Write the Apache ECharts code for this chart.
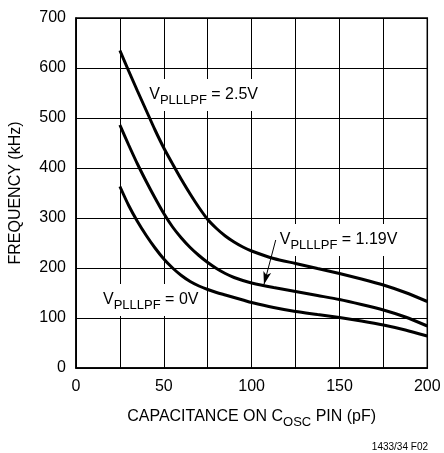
<!DOCTYPE html>
<html>
<head>
<meta charset="utf-8">
<script src="https://cdn.jsdelivr.net/npm/echarts@6/dist/echarts.min.js"></script>
<style>
html,body{margin:0;padding:0;background:#fff;}
#c{width:444px;height:453px;}
</style>
</head>
<body>
<div id="c"></div>
<script>
// Capacitance on COSC pin (pF)
const capPF = [25, 30, 35, 40, 45, 50, 55, 60, 65, 70, 75, 80, 85, 90, 95, 100, 112.5, 125, 137.5, 150, 162.5, 175, 187.5, 200];
// Frequency (kHz) for each VPLLLPF
const freq2p5V = [635, 594, 554, 515, 476, 440, 408, 377, 348, 321, 297, 279, 264, 252, 242, 234, 219, 209, 199, 189, 178, 166, 151, 133];
const freq1p19V = [486, 446, 408, 373, 340, 309, 282, 260, 241, 225, 211, 199, 189, 181, 175, 170, 161, 153, 145, 137, 127, 116, 102, 84];
const freq0V = [363, 325, 293, 265, 240, 218, 200, 185, 173, 164, 157, 151, 146, 141, 136, 131, 121, 113, 107, 101, 94, 86, 76, 64];
const xTicks = [0, 50, 100, 150, 200];
const yTicks = [0, 100, 200, 300, 400, 500, 600, 700];
const labels = [
  {main: 'V', sub: 'PLLLPF', rest: ' = 2.5V', at: [39.4, 546]},
  {main: 'V', sub: 'PLLLPF', rest: ' = 1.19V', at: [113.7, 256]},
  {main: 'V', sub: 'PLLLPF', rest: ' = 0V', at: [13.1, 136]}
];
const arrow = {from: [113.7, 256], to: [107, 167]};

const FONT = '"Liberation Sans", Arial, sans-serif';
const pairs = arr => capPF.map((x, i) => [x, arr[i]]);

const chart = echarts.init(document.getElementById('c'), null, {renderer: 'canvas'});

function mkSeries(arr, extra) {
  return Object.assign({
    type: 'line', data: pairs(arr), smooth: 0.25, symbol: 'none',
    lineStyle: {color: '#000', width: 3}, z: 5, animation: false
  }, extra || {});
}

chart.setOption({
  backgroundColor: '#fff',
  animation: false,
  grid: {left: 76, right: 16.7, top: 18, bottom: 85, show: true, borderColor: '#000', borderWidth: 1.5, backgroundColor: 'transparent'},
  xAxis: {
    type: 'value', min: 0, max: 200, interval: 25,
    name: 'CAPACITANCE ON C{s|OSC} PIN (pF)', nameLocation: 'middle', nameGap: 37,
    nameTextStyle: {fontFamily: FONT, fontSize: 16, color: '#000', lineHeight: 24,
      rich: {s: {fontFamily: FONT, fontSize: 13, color: '#000', lineHeight: 13, verticalAlign: 'bottom'}}},
    axisLine: {show: true, lineStyle: {color: '#000', width: 1.5}},
    axisTick: {show: false},
    axisLabel: {fontFamily: FONT, fontSize: 16, color: '#000', margin: 11,
      formatter: v => xTicks.indexOf(v) >= 0 ? String(v) : ''},
    splitLine: {show: true, lineStyle: {color: '#000', width: 1}}
  },
  yAxis: {
    type: 'value', min: 0, max: 700, interval: 100,
    name: 'FREQUENCY (kHz)', nameLocation: 'middle', nameGap: 52,
    nameTextStyle: {fontFamily: FONT, fontSize: 16, color: '#000'},
    axisLine: {show: true, lineStyle: {color: '#000', width: 1.5}},
    axisTick: {show: false},
    axisLabel: {fontFamily: FONT, fontSize: 16, color: '#000', margin: 10,
      formatter: v => yTicks.indexOf(v) >= 0 ? String(v) : ''},
    splitLine: {show: true, lineStyle: {color: '#000', width: 1}}
  },
  series: [
    mkSeries(freq2p5V),
    mkSeries(freq1p19V, {
      markLine: {
        silent: true, animation: false, symbol: ['none', 'arrow'], symbolSize: [6, 13],
        label: {show: false},
        lineStyle: {color: '#000', width: 1, type: 'solid'},
        data: [[{coord: arrow.from}, {coord: arrow.to}]]
      }
    }),
    mkSeries(freq0V)
  ]
});

const gfx = labels.map(l => {
  const p = chart.convertToPixel({gridIndex: 0}, l.at);
  return {
    type: 'text', x: p[0], y: p[1], z: 1,
    style: {
      text: '{m|' + l.main + '}{s|' + l.sub + '}{m|' + l.rest + '}',
      align: 'left', verticalAlign: 'middle',
      backgroundColor: '#fff', padding: [4, 3, 4, 4],
      rich: {
        m: {fontFamily: FONT, fontSize: 16, fill: '#000', lineHeight: 24, verticalAlign: 'middle'},
        s: {fontFamily: FONT, fontSize: 13, fill: '#000', lineHeight: 13, verticalAlign: 'bottom'}
      }
    }
  };
});
gfx.push({
  type: 'text', right: 16, bottom: 1, z: 1,
  style: {text: '1433/34 F02', font: '10px ' + FONT, fill: '#000'}
});
chart.setOption({graphic: gfx});
</script>
</body>
</html>
